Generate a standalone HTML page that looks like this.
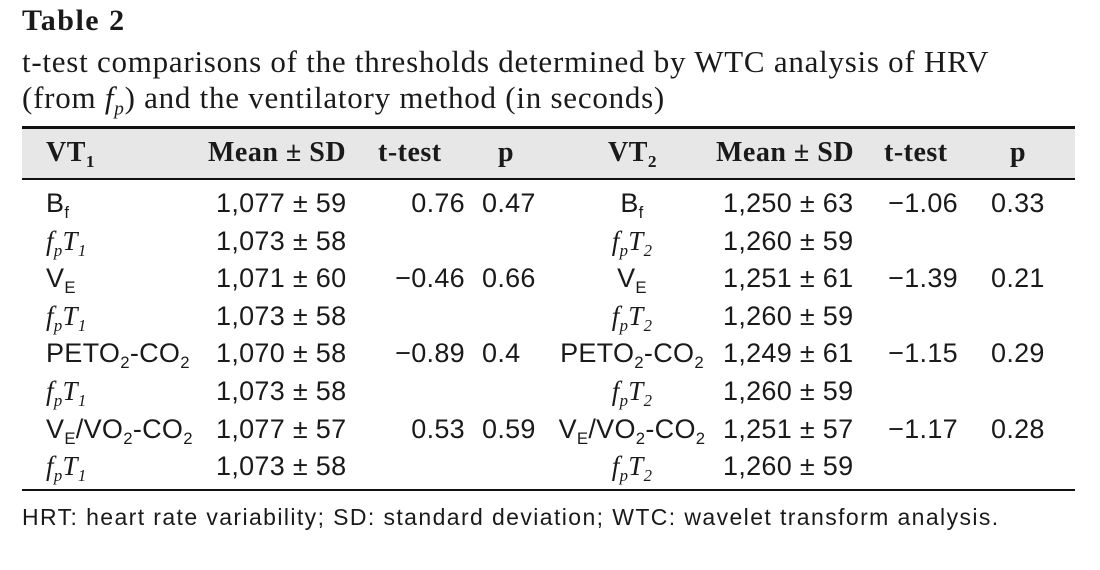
<!DOCTYPE html>
<html><head><meta charset="utf-8"><style>
body{margin:0;width:1100px;height:570px;background:#fff;position:relative;overflow:hidden;font-family:"Liberation Sans",sans-serif;color:#1a1a1a}
.a{position:absolute;white-space:nowrap}
.cap{font-family:"Liberation Serif",serif;font-size:31px;letter-spacing:0.75px;left:22px}
.h{font-family:"Liberation Serif",serif;font-weight:bold;font-size:28px;letter-spacing:0.5px;top:137px}
.d{font-size:27px;letter-spacing:0.3px}
sub{font-size:62%;vertical-align:-0.35em;line-height:0}
i{font-family:"Liberation Serif",serif}
</style></head><body>
<div class="a" style="left:22px;top:4px;font-family:'Liberation Serif',serif;font-weight:bold;font-size:30px;letter-spacing:1.5px">Table 2</div>
<div class="a cap" style="top:44px">t-test comparisons of the thresholds determined by WTC analysis of HRV</div>
<div class="a cap" style="top:80px">(from <i>f<sub>p</sub></i>) and the ventilatory method (in seconds)</div>
<div class="a" style="left:22px;top:127px;width:1053px;height:52px;background:#e7e7e7"></div>
<div class="a" style="left:22px;top:126px;width:1053px;height:3px;background:#111"></div>
<div class="a" style="left:22px;top:178px;width:1053px;height:2px;background:#111"></div>
<div class="a" style="left:22px;top:489px;width:1053px;height:2px;background:#111"></div>
<div class="a h" style="left:46px">VT<sub>1</sub></div>
<div class="a h" style="left:208px">Mean ± SD</div>
<div class="a h" style="left:378px">t-test</div>
<div class="a h" style="left:498px">p</div>
<div class="a h" style="left:608px">VT<sub>2</sub></div>
<div class="a h" style="left:716px">Mean ± SD</div>
<div class="a h" style="left:884px">t-test</div>
<div class="a h" style="left:1010px">p</div>
<div id="rows"></div>
<div class="a" style="left:22px;top:504px;font-size:23px;letter-spacing:1.4px">HRT: heart rate variability; SD: standard deviation; WTC: wavelet transform analysis.</div>
<script>
const labels1=['B<sub>f</sub>','<i>f<sub>p</sub>T<sub>1</sub></i>','V<sub>E</sub>','<i>f<sub>p</sub>T<sub>1</sub></i>','PETO<sub>2</sub>-CO<sub>2</sub>','<i>f<sub>p</sub>T<sub>1</sub></i>','V<sub>E</sub>/VO<sub>2</sub>-CO<sub>2</sub>','<i>f<sub>p</sub>T<sub>1</sub></i>'];
const means1=['1,077 ± 59','1,073 ± 58','1,071 ± 60','1,073 ± 58','1,070 ± 58','1,073 ± 58','1,077 ± 57','1,073 ± 58'];
const t1=['0.76','','−0.46','','−0.89','','0.53',''];
const p1=['0.47','','0.66','','0.4','','0.59',''];
const labels2=['B<sub>f</sub>','<i>f<sub>p</sub>T<sub>2</sub></i>','V<sub>E</sub>','<i>f<sub>p</sub>T<sub>2</sub></i>','PETO<sub>2</sub>-CO<sub>2</sub>','<i>f<sub>p</sub>T<sub>2</sub></i>','V<sub>E</sub>/VO<sub>2</sub>-CO<sub>2</sub>','<i>f<sub>p</sub>T<sub>2</sub></i>'];
const means2=['1,250 ± 63','1,260 ± 59','1,251 ± 61','1,260 ± 59','1,249 ± 61','1,260 ± 59','1,251 ± 57','1,260 ± 59'];
const t2=['−1.06','','−1.39','','−1.15','','−1.17',''];
const p2=['0.33','','0.21','','0.29','','0.28',''];
const host=document.getElementById('rows');
function cell(html,style,name){
  const el=document.createElement('div');
  el.className='a d';
  el.innerHTML=html;
  el.style.cssText=style;
  
  
  host.appendChild(el);
}
labels1.forEach((l,i)=>{
  const top=188+i*37.6;
  cell(l,`left:46px;top:${top}px`,'vt1-label');
  cell(means1[i],`left:216px;top:${top}px`,'vt1-mean-sd');
  cell(t1[i],`left:360px;width:105px;text-align:right;top:${top}px`,'vt1-ttest');
  cell(p1[i],`left:482px;top:${top}px`,'vt1-p');
  cell(labels2[i],`left:532px;width:200px;text-align:center;top:${top}px`,'vt2-label');
  cell(means2[i],`left:723px;top:${top}px`,'vt2-mean-sd');
  cell(t2[i],`left:850px;width:108px;text-align:right;top:${top}px`,'vt2-ttest');
  cell(p2[i],`left:991px;top:${top}px`,'vt2-p');
});
</script>
</body></html>
